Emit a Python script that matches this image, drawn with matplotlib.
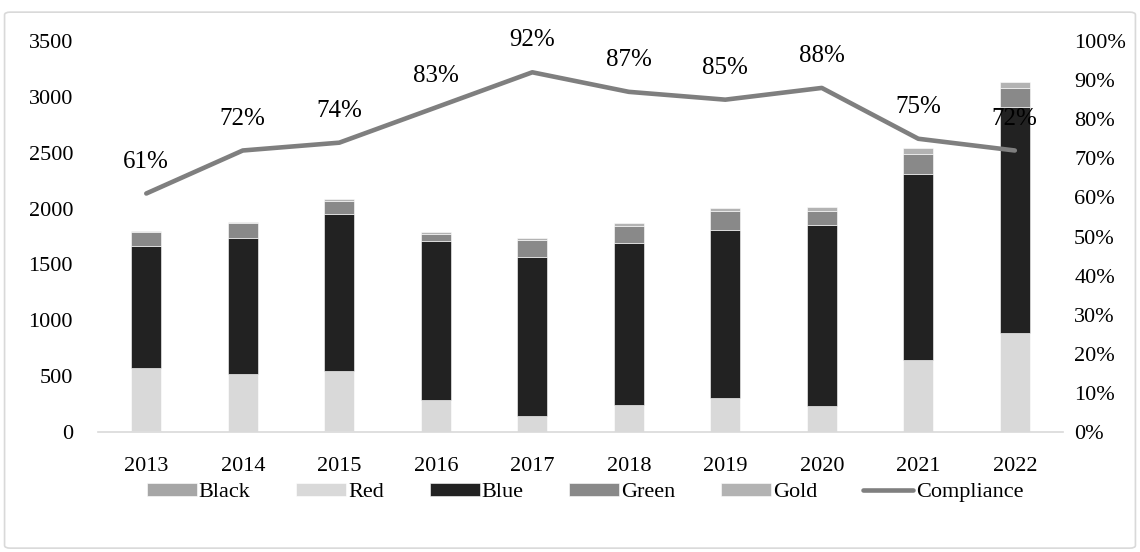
import numpy as np
import matplotlib.pyplot as plt
from matplotlib.patches import FancyBboxPatch

plt.rcParams['font.family'] = ['Liberation Serif', 'DejaVu Serif']

# ---------------- data ----------------
years = ['2013', '2014', '2015', '2016', '2017', '2018', '2019', '2020', '2021', '2022']
black = np.array([12, 0, 12, 0, 0, 0, 0, 0, 0, 0])
red = np.array([558, 516, 537, 286, 146, 242, 304, 235, 644, 889])
blue = np.array([1095, 1223, 1402, 1421, 1423, 1452, 1504, 1621, 1668, 2020])
green = np.array([121, 129, 119, 68, 152, 153, 173, 125, 179, 170])
gold = np.array([13, 12, 16, 15, 18, 21, 27, 36, 51, 54])
compliance = np.array([61, 72, 74, 83, 92, 87, 85, 88, 75, 72])

series = [('Black', black, '#a6a6a6'), ('Red', red, '#d9d9d9'),
          ('Blue', blue, '#222222'), ('Green', green, '#898989'),
          ('Gold', gold, '#b3b3b3')]

# ---------------- plot ----------------
fig = plt.figure(figsize=(11.4, 5.52), dpi=100)
ax = fig.add_axes([0.086, 0.2174, 0.8465, 0.7083])
x = np.arange(len(years))

bottom = np.zeros(len(years))
handles = []
for name, vals, col in series:
    b = ax.bar(x, vals, 0.31, bottom=bottom, color=col, edgecolor='white',
               linewidth=0.4, label=name)
    handles.append(b)
    bottom += vals

ax.set_ylim(0, 3500)
ax.set_yticks(np.arange(0, 3501, 500))
ax.set_xlim(-0.5, len(years) - 0.5)
ax.set_xticks(x)
ax.set_xticklabels(years)
for s in ['top', 'right', 'left']:
    ax.spines[s].set_visible(False)
ax.spines['bottom'].set_color('#d9d9d9')
ax.spines['bottom'].set_linewidth(1.2)
ax.tick_params(axis='both', length=0, labelsize=16, colors='#000000')
ax.tick_params(axis='x', pad=18)
ax.tick_params(axis='y', pad=18)

ax2 = ax.twinx()
ln, = ax2.plot(x, compliance / 100, color='#7f7f7f', lw=3.3,
               solid_capstyle='round', label='Compliance')
ax2.set_ylim(0, 1)
ax2.set_yticks(np.arange(0, 1.01, 0.1))
ax2.set_yticklabels(['%d%%' % v for v in range(0, 101, 10)])
for s in ['top', 'right', 'left', 'bottom']:
    ax2.spines[s].set_visible(False)
ax2.tick_params(axis='y', length=0, labelsize=16, pad=8)

for xi, c in zip(x, compliance):
    ax2.annotate('%d%%' % c, (xi, c / 100), xytext=(0, 23),
                 textcoords='offset points', ha='center', va='center',
                 fontsize=18, clip_on=False)

fig.legend(handles + [ln], [h.get_label() for h in handles] + ['Compliance'],
           loc='center', bbox_to_anchor=(0.513, 0.108), ncol=6, frameon=False,
           fontsize=16, handlelength=2.25, handleheight=0.55, handletextpad=0.1,
           columnspacing=2.05)

# outer border
fig.patches.append(FancyBboxPatch((0.004, 0.007), 0.992, 0.971,
                                  boxstyle='round,pad=0,rounding_size=0.005',
                                  transform=fig.transFigure, fill=False,
                                  edgecolor='#d9d9d9', lw=1.2))

fig.savefig('out.png', dpi=100)
